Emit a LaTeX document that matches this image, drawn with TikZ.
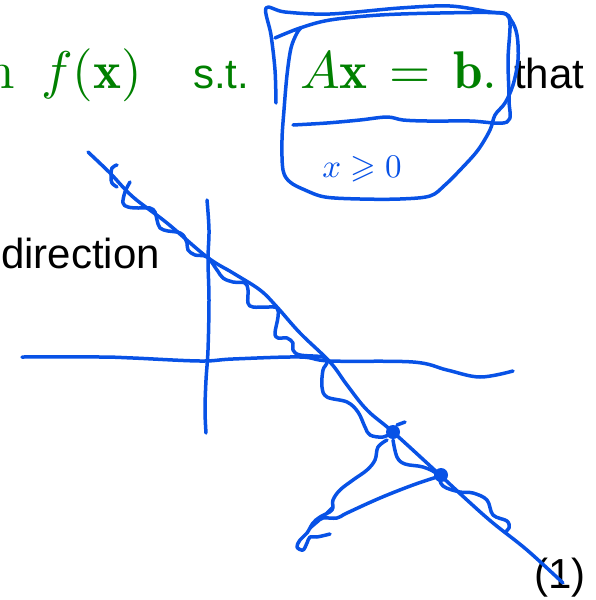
\documentclass[tikz,border=0pt]{standalone}
\usepackage{amsmath,amssymb}
\usepackage{fontspec}
\setsansfont{Liberation Sans}
\definecolor{ink}{RGB}{8,82,230}
\definecolor{slidegreen}{RGB}{0,128,0}
\tikzset{
  pen/.style={draw=ink, line width=3.5pt, line cap=round, line join=round},
  greentxt/.style={text=slidegreen, inner sep=0pt, scale=5.3},
  greensans/.style={text=slidegreen, inner sep=0pt, font=\sffamily\fontsize{42}{48}\selectfont},
  blacktxt/.style={text=black, inner sep=0pt, font=\sffamily\fontsize{42}{48}\selectfont},
  dot/.style={fill=ink, circle, inner sep=0pt, minimum size=14pt}
}
\begin{document}
\begin{tikzpicture}[x=1pt,y=-1pt]
\useasboundingbox (0,0) rectangle (596,600);
\clip (0,0) rectangle (596,600);
% slide text
\node[greentxt, anchor=base east] (tn) at (16,88) {$\mathrm{n}$};
\node[greentxt, anchor=base west] (tf) at (40,88) {$f(\mathbf{x})$};
\node[greensans, anchor=base west] (tst) at (193,88) {s.t.};
\node[greentxt, anchor=base west] (tax) at (299,88) {$A\mathbf{x}\mkern2.5mu=\mkern2.5mu\mathbf{b}.$};
\node[blacktxt, anchor=base west] (tthat) at (514,88) {that};
\node[blacktxt, anchor=base west] (tdir) at (1,268) {direction};
\node[blacktxt, anchor=base west] (tone) at (534,588) {(1)};
% handwritten frame around constraint
\draw[pen] plot[smooth, tension=0.55] coordinates {(276,103) (275,70) (271,35) (266,8) (285,12) (330,14) (400,8) (450,6) (490,12) (506,14) (510,25) (508,60) (509,100) (507,122) (470,121) (427,121) (403,120) (387,117) (360,120) (327,123) (293,125)};
\draw[pen] plot[smooth, tension=0.55] coordinates {(275,38) (300,28) (330,20) (380,15) (440,13) (500,13) (511,20) (517,35) (518,60) (513,85) (505,103) (495,115) (490,130) (478,150) (462,168) (445,185) (430,196) (400,199) (360,199) (325,197) (305,190) (290,182) (283,170) (282,140) (284,110) (287,75) (291,48) (297,33) (301,28)};
\node[text=ink, inner sep=0pt, scale=3.3] (tgeq) at (362,169) {$x\geqslant 0$};
% axes
\draw[pen] plot[smooth, tension=0.6] coordinates {(207,200) (209,230) (208,260) (209,300) (208,350) (206,380) (205,410) (206,433)};
\draw[pen] plot[smooth, tension=0.6] coordinates {(22,357) (100,357) (133,358) (200,361) (233,359) (300,357) (330,361) (413,362) (447,370) (480,377) (513,371)};
% feasible line
\draw[pen] plot[smooth, tension=0.6] coordinates {(88,152) (110,173) (133,197) (167,223) (207,257) (233,273) (260,290) (277,307) (300,333) (330,362) (347,385) (367,410) (393,432) (440,475) (467,500) (493,523) (527,550) (563,583)};
% wiggly path
\draw[pen] plot[smooth, tension=0.6] coordinates {(117,165) (112,168) (111,177) (112,183) (117,187)};
\draw[pen] plot[smooth, tension=0.6] coordinates {(130,182) (125,192) (123,203) (128,207) (138,208) (150,208) (155,212) (157,220) (160,228) (168,231) (177,232) (183,235) (187,243) (188,250) (195,255) (207,257) (217,270) (223,278) (233,282) (245,283) (248,290) (248,303) (253,307) (267,307) (277,308) (278,317) (275,333) (278,338) (287,338) (293,343) (293,350) (300,355) (323,357) (327,363) (323,370) (322,387) (327,397) (347,402) (358,412) (365,427) (370,435) (383,437) (393,432)};
\draw[pen] plot[smooth, tension=0.6] coordinates {(393,440) (397,457) (405,464) (423,467) (437,474) (443,486) (460,492) (473,493) (487,500) (493,515) (507,521) (509,528) (505,532)};
\draw[pen] (405,422) -- (397,425);
% dots
\node[dot] (d1) at (393,432) {};
\node[dot] (d2) at (441,475) {};
% triangle towards lower left
\draw[pen] plot[smooth, tension=0.6] coordinates {(387,440) (378,447) (375,460) (367,470) (353,480) (340,490) (333,500) (332,510) (320,517) (313,523) (307,533) (300,540) (297,547) (303,550) (307,543) (310,537) (317,537) (330,534)};
\draw[pen] plot[smooth, tension=0.6] coordinates {(437,477) (413,485) (380,498) (347,513) (337,518) (323,518) (317,522) (310,528)};
\draw[pen] (333,507) -- (327,513);
\end{tikzpicture}
\end{document}
